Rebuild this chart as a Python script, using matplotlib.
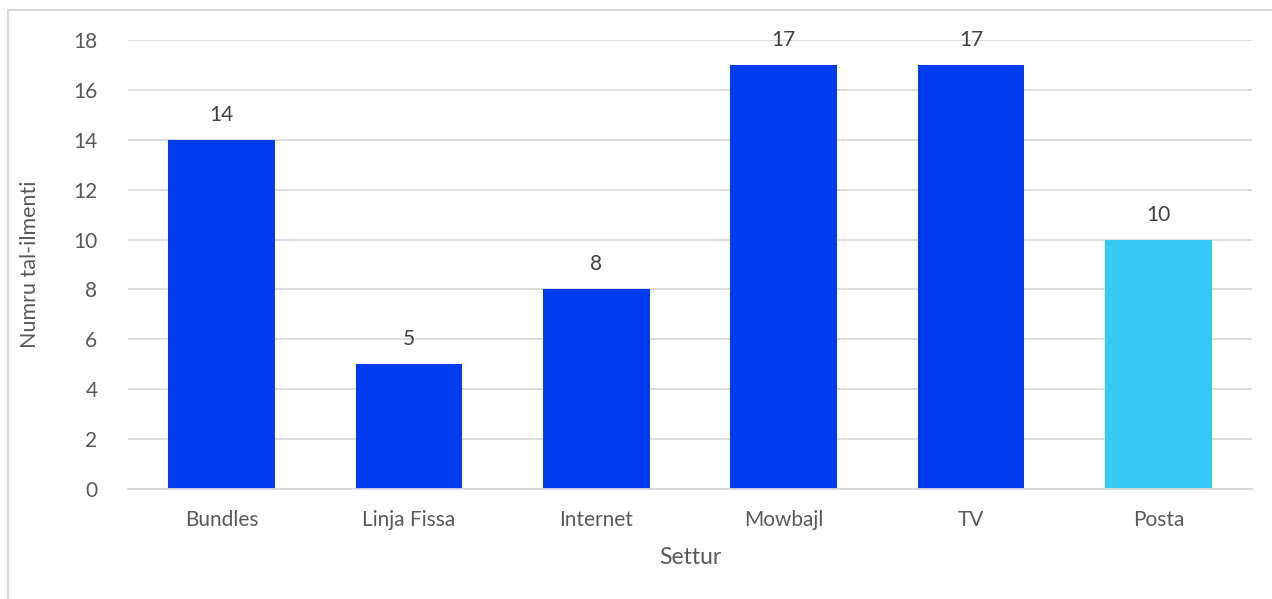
import matplotlib.pyplot as plt
from matplotlib.patches import Rectangle

# number of items per sector
sectors = ["Bundles", "Linja Fissa", "Internet", "Mowbajl", "TV", "Posta"]
counts = [14, 5, 8, 17, 17, 10]
bar_colors = ["#033bee", "#033bee", "#033bee", "#033bee", "#033bee", "#35c8f5"]
yticks = [0, 2, 4, 6, 8, 10, 12, 14, 16, 18]

plt.rcParams['font.family'] = ['Lato', 'DejaVu Sans']
text_color = '#595959'

fig = plt.figure(figsize=(12.72, 5.99), dpi=100)
ax = fig.add_axes([0.1006, 0.1836, 0.8837, 0.7496])

# light frame round the chart
fig.patches.append(Rectangle((8 / 1272, -0.05), 1.1, 1 - 10 / 599 + 0.05,
                             transform=fig.transFigure, fill=False,
                             edgecolor='#d9d9d9', linewidth=1.5))

x = range(len(sectors))
bars = ax.bar(x, counts, width=0.57, color=bar_colors, zorder=2)
for b, v in zip(bars, counts):
    ax.text(b.get_x() + b.get_width() / 2, v + 0.6, str(v),
            ha='center', va='bottom', fontsize=15, color='#404040')

ax.set_xlim(-0.5, len(sectors) - 0.5)
ax.set_ylim(0, 18)
ax.set_yticks(yticks)
ax.set_xticks(list(x))
ax.set_xticklabels(sectors)
ax.grid(axis='y', color='#d9d9d9', linewidth=1.3, zorder=0)
for s in ['top', 'right', 'left']:
    ax.spines[s].set_visible(False)
ax.spines['bottom'].set_color('#d9d9d9')
ax.spines['bottom'].set_linewidth(1.3)
ax.tick_params(axis='both', length=0, labelsize=15, colors=text_color)
ax.tick_params(axis='y', pad=22)
ax.tick_params(axis='x', pad=15)

ax.set_xlabel('Settur', fontsize=16.5, color=text_color, labelpad=12)
ax.set_ylabel('Numru tal-ilmenti', fontsize=15.5, color=text_color, labelpad=24)

fig.savefig('out.png', dpi=100)
